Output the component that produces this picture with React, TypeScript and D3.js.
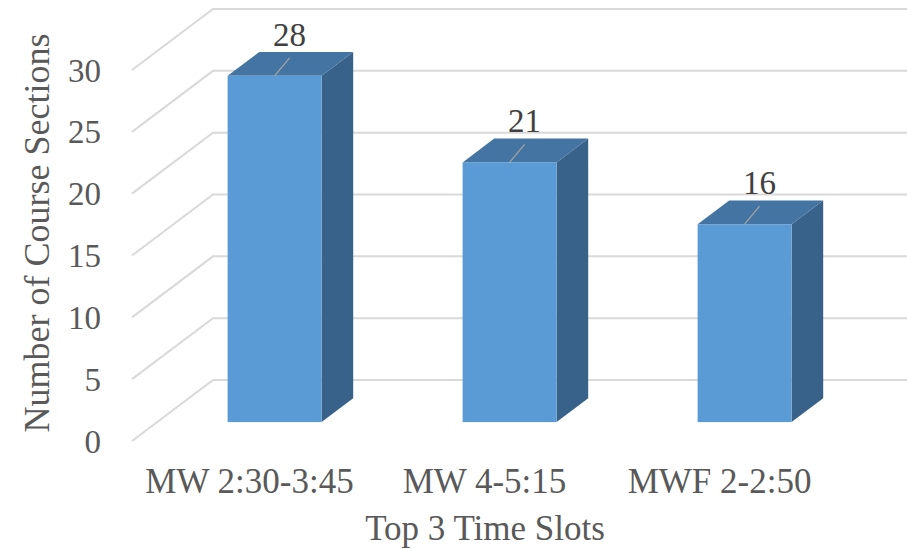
import * as d3 from 'd3';

// chart data
const categories = ['MW 2:30-3:45', 'MW 4-5:15', 'MWF 2-2:50'];
const sections = [28, 21, 16];
const yTicks = [0, 5, 10, 15, 20, 25, 30];

const W = 907;
const H = 549;
// 3D depth offset of the walls
const depthX = 81;
const depthY = -61;
// bars sit between these depth fractions
const barD0 = 0.31;
const barD1 = 0.7;

const font = '"Liberation Serif", "Times New Roman", serif';

export default function App() {
  // front plane scales
  const x = d3.scaleBand().domain(categories).range([132, 837]);
  const y = d3.scaleLinear().domain([0, 30]).range([441, 70]);

  const px = (xv: number, d: number) => xv + depthX * d;
  const py = (v: number, d: number) => y(v) + depthY * d;

  const barW = x.bandwidth() * 0.4;

  return (
    <svg width={W} height={H} style={{ position: 'absolute', left: 0, top: 0, background: '#fff' }}>
      {/* gridlines: side wall diagonal + back wall horizontal */}
      {yTicks.map((t) => (
        <path
          key={'g' + t}
          d={d3.line()([
            [132, y(t)],
            [px(132, 1), py(t, 1)],
            [W, py(t, 1)],
          ])!}
          fill="none"
          stroke="#d9d9d9"
          strokeWidth={2}
        />
      ))}

      {/* tick labels */}
      {yTicks.map((t) => (
        <text
          key={'t' + t}
          x={101}
          y={y(t)}
          dy="0.35em"
          textAnchor="end"
          fontFamily={font}
          fontSize={33}
          fill="#595959"
        >
          {t}
        </text>
      ))}

      {/* bars */}
      {categories.map((c, i) => {
        const v = sections[i];
        const cx = x(c)! + x.bandwidth() / 2;
        const l = px(cx - barW / 2, barD0);
        const r = px(cx + barW / 2, barD0);
        const top = py(v, barD0);
        const bot = py(0, barD0);
        const ddx = depthX * (barD1 - barD0);
        const ddy = depthY * (barD1 - barD0);
        const fc = px(cx, barD0);
        return (
          <g key={c}>
            <polygon
              points={`${r},${top} ${r + ddx},${top + ddy} ${r + ddx},${bot + ddy} ${r},${bot}`}
              fill="#386289"
            />
            <polygon
              points={`${l},${top} ${l + ddx},${top + ddy} ${r + ddx},${top + ddy} ${r},${top}`}
              fill="#4374a2"
            />
            <rect x={l} y={top} width={r - l} height={bot - top} fill="#5b9bd5" />
            <line x1={fc} y1={top} x2={fc + 15} y2={top - 18} stroke="#a6a6a6" strokeWidth={1.2} />
            <text
              x={fc + 15}
              y={top - 30}
              textAnchor="middle"
              fontFamily={font}
              fontSize={33}
              fill="#404040"
            >
              {v}
            </text>
          </g>
        );
      })}

      {/* category labels */}
      {categories.map((c) => (
        <text
          key={'c' + c}
          x={x(c)! + x.bandwidth() / 2}
          y={493}
          textAnchor="middle"
          fontFamily={font}
          fontSize={35}
          fill="#595959"
        >
          {c}
        </text>
      ))}

      {/* axis titles */}
      <text x={485} y={540} textAnchor="middle" fontFamily={font} fontSize={35} fill="#595959">
        Top 3 Time Slots
      </text>
      <text
        transform="translate(49,233) rotate(-90)"
        textAnchor="middle"
        fontFamily={font}
        fontSize={36}
        fill="#595959"
      >
        Number of Course Sections
      </text>
    </svg>
  );
}
